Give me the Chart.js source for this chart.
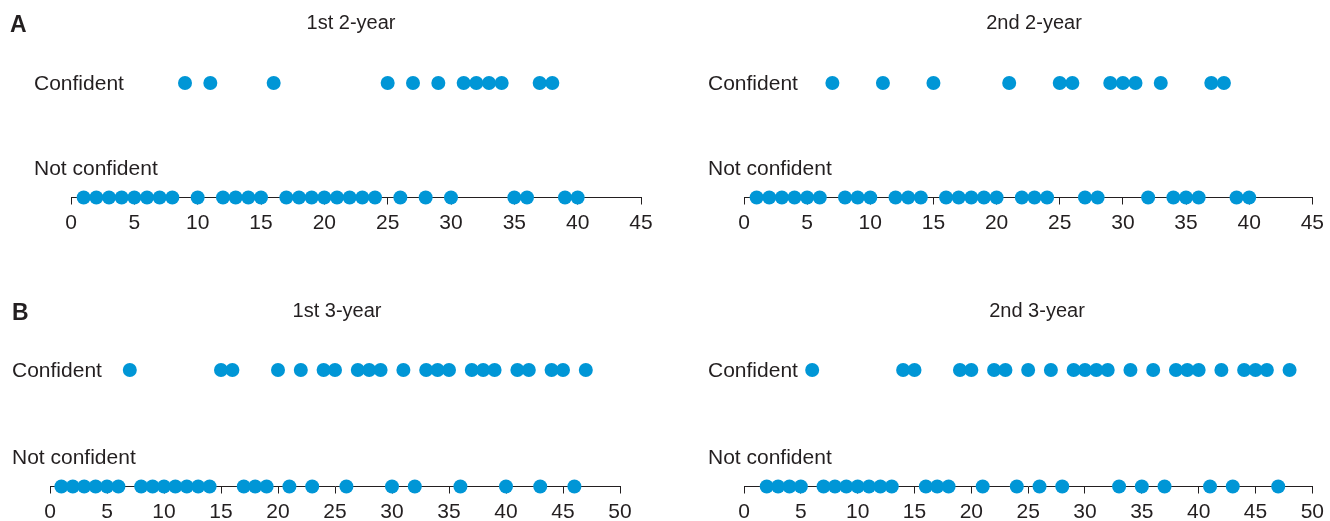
<!DOCTYPE html>
<html>
<head>
<meta charset="utf-8">
<script src="https://cdn.jsdelivr.net/npm/chart.js@4/dist/chart.umd.min.js"></script>
<style>
  html, body { margin: 0; padding: 0; background: #ffffff; }
  #wrap { position: relative; width: 1330px; height: 521px; overflow: hidden; background: #ffffff; }
  #wrap canvas { position: absolute; }
</style>
</head>
<body>
<div id="wrap">
  <canvas id="a1" width="665" height="250" style="left:0px;top:0px;"></canvas>
  <canvas id="a2" width="665" height="250" style="left:665px;top:0px;"></canvas>
  <canvas id="b1" width="665" height="261" style="left:0px;top:260px;"></canvas>
  <canvas id="b2" width="665" height="261" style="left:665px;top:260px;"></canvas>
</div>
<script>
// ---------------- DATA ----------------
const rowLabels = ['Confident', 'Not confident'];
const panelTitles = ['1st 2-year', '2nd 2-year', '1st 3-year', '2nd 3-year'];
const sectionLetters = ['A', 'B'];

const ticksA = [0, 5, 10, 15, 20, 25, 30, 35, 40, 45];
const ticksB = [0, 5, 10, 15, 20, 25, 30, 35, 40, 45, 50];

const a1Confident    = [9, 11, 16, 25, 27, 29, 31, 32, 33, 34, 37, 38];
const a1NotConfident = [1, 2, 3, 4, 5, 6, 7, 8, 10, 12, 13, 14, 15, 17, 18, 19, 20, 21, 22, 23, 24, 26, 28, 30, 35, 36, 39, 40];

const a2Confident    = [7, 11, 15, 21, 25, 26, 29, 30, 31, 33, 37, 38];
const a2NotConfident = [1, 2, 3, 4, 5, 6, 8, 9, 10, 12, 13, 14, 16, 17, 18, 19, 20, 22, 23, 24, 27, 28, 32, 34, 35, 36, 39, 40];

const b1Confident    = [7, 15, 16, 20, 22, 24, 25, 27, 28, 29, 31, 33, 34, 35, 37, 38, 39, 41, 42, 44, 45, 47];
const b1NotConfident = [1, 2, 3, 4, 5, 6, 8, 9, 10, 11, 12, 13, 14, 17, 18, 19, 21, 23, 26, 30, 32, 36, 40, 43, 46];

const b2Confident    = [6, 14, 15, 19, 20, 22, 23, 25, 27, 29, 30, 31, 32, 34, 36, 38, 39, 40, 42, 44, 45, 46, 48];
const b2NotConfident = [2, 3, 4, 5, 7, 8, 9, 10, 11, 12, 13, 16, 17, 18, 21, 24, 26, 28, 33, 35, 37, 41, 43, 47];

// ---------------- STYLE / LAYOUT ----------------
const DOT = '#0096d6';
const INK = '#231f20';
const FONT = "'Liberation Sans', Arial, Helvetica, sans-serif";

// canvas-relative layout of each panel
const layouts = {
  a1: { chartLeft: 71, chartRight: 641, chartTop: 83, chartBottom: 197.5, H: 250,
        titleX: 351, titleY: 23, letter: 'A', letterX: 10, letterY: 26, labelX: 34, confY: 84, notY: 169 },
  a2: { chartLeft: 79, chartRight: 648, chartTop: 83, chartBottom: 197.5, H: 250,
        titleX: 369, titleY: 23, letter: null, labelX: 43, confY: 84, notY: 169 },
  b1: { chartLeft: 50, chartRight: 620, chartTop: 110, chartBottom: 226.5, H: 261,
        titleX: 337, titleY: 51, letter: 'B', letterX: 12, letterY: 54, labelX: 12, confY: 111, notY: 198 },
  b2: { chartLeft: 79, chartRight: 648, chartTop: 110, chartBottom: 226.5, H: 261,
        titleX: 372, titleY: 51, letter: null, labelX: 43, confY: 111, notY: 198 }
};

const textPlugin = {
  id: 'panelText',
  afterDraw(chart, args, opts) {
    const L = opts.layout;
    const ctx = chart.ctx;
    ctx.save();
    ctx.fillStyle = INK;
    ctx.textBaseline = 'middle';
    // panel title
    ctx.font = '20px ' + FONT;
    ctx.textAlign = 'center';
    ctx.fillText(opts.title, L.titleX, L.titleY);
    // section letter
    if (L.letter) {
      ctx.font = 'bold 23px ' + FONT;
      ctx.textAlign = 'left';
      ctx.fillText(L.letter, L.letterX, L.letterY);
    }
    // row labels
    ctx.font = '21px ' + FONT;
    ctx.textAlign = 'left';
    ctx.fillText(rowLabels[0], L.labelX, L.confY);
    ctx.fillText(rowLabels[1], L.labelX, L.notY);
    ctx.restore();
  }
};

function makePanel(id, title, confident, notConfident, ticks) {
  const L = layouts[id];
  const W = 665;
  const ctx = document.getElementById(id);
  const toPts = (arr, y) => arr.map(v => ({ x: v, y: y }));
  return new Chart(ctx, {
    type: 'scatter',
    data: {
      datasets: [
        { label: rowLabels[0], data: toPts(confident, 1), backgroundColor: DOT, borderWidth: 0,
          pointRadius: 7, pointHoverRadius: 7, clip: false },
        { label: rowLabels[1], data: toPts(notConfident, 0), backgroundColor: DOT, borderWidth: 0,
          pointRadius: 7, pointHoverRadius: 7, clip: false }
      ]
    },
    options: {
      responsive: false,
      animation: false,
      events: [],
      layout: { padding: { left: L.chartLeft, right: W - L.chartRight, top: L.chartTop, bottom: 0 } },
      plugins: {
        legend: { display: false },
        title: { display: false },
        tooltip: { enabled: false },
        panelText: { title: title, layout: L }
      },
      scales: {
        x: {
          type: 'linear',
          min: ticks[0],
          max: ticks[ticks.length - 1],
          afterBuildTicks: (scale) => { scale.ticks = ticks.map(v => ({ value: v })); },
          afterFit: (scale) => { scale.height = L.H - L.chartBottom; },
          border: { display: true, color: INK, width: 1 },
          grid: { display: true, drawOnChartArea: false, drawTicks: true, tickLength: 7, color: INK, lineWidth: 1 },
          ticks: { color: INK, font: { family: FONT, size: 21 }, padding: 6, maxRotation: 0, autoSkip: false }
        },
        y: { type: 'linear', min: 0, max: 1, display: false }
      }
    },
    plugins: [textPlugin]
  });
}

makePanel('a1', panelTitles[0], a1Confident, a1NotConfident, ticksA);
makePanel('a2', panelTitles[1], a2Confident, a2NotConfident, ticksA);
makePanel('b1', panelTitles[2], b1Confident, b1NotConfident, ticksB);
makePanel('b2', panelTitles[3], b2Confident, b2NotConfident, ticksB);
</script>
</body>
</html>
